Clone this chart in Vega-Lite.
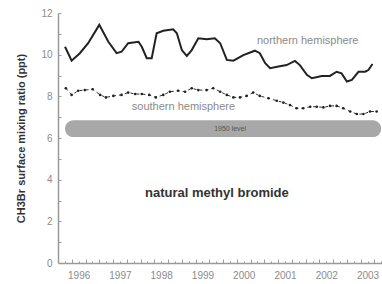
{
  "$schema": "https://vega.github.io/schema/vega-lite/v6.json",
  "width": 324,
  "height": 250,
  "autosize": {"type": "none"},
  "padding": {"left": 58, "top": 13, "right": 0, "bottom": 21},
  "background": "white",
  "config": {"view": {"stroke": null}, "font": "Liberation Sans"},
  "resolve": {"axis": {"x": "independent", "y": "independent"}},
  "datasets": {
    "north": [
      {"t": 1996.17, "v": 10.38}, {"t": 1996.33, "v": 9.71}, {"t": 1996.53, "v": 10.07}, {"t": 1996.73, "v": 10.55},
      {"t": 1997.0, "v": 11.43}, {"t": 1997.22, "v": 10.62}, {"t": 1997.42, "v": 10.07}, {"t": 1997.54, "v": 10.14},
      {"t": 1997.7, "v": 10.55}, {"t": 1997.95, "v": 10.62}, {"t": 1998.03, "v": 10.38}, {"t": 1998.15, "v": 9.83},
      {"t": 1998.27, "v": 9.83}, {"t": 1998.39, "v": 11.03}, {"t": 1998.55, "v": 11.15}, {"t": 1998.79, "v": 11.22},
      {"t": 1998.88, "v": 11.03}, {"t": 1999.0, "v": 10.22}, {"t": 1999.12, "v": 9.94}, {"t": 1999.24, "v": 10.22},
      {"t": 1999.4, "v": 10.79}, {"t": 1999.6, "v": 10.74}, {"t": 1999.8, "v": 10.79}, {"t": 1999.93, "v": 10.55},
      {"t": 2000.09, "v": 9.75}, {"t": 2000.25, "v": 9.71}, {"t": 2000.49, "v": 9.98}, {"t": 2000.77, "v": 10.19},
      {"t": 2000.89, "v": 10.07}, {"t": 2001.02, "v": 9.59}, {"t": 2001.14, "v": 9.35}, {"t": 2001.34, "v": 9.43},
      {"t": 2001.54, "v": 9.5}, {"t": 2001.74, "v": 9.7}, {"t": 2001.86, "v": 9.5}, {"t": 2002.03, "v": 9.03},
      {"t": 2002.15, "v": 8.87}, {"t": 2002.39, "v": 8.98}, {"t": 2002.59, "v": 8.98}, {"t": 2002.75, "v": 9.18},
      {"t": 2002.87, "v": 9.1}, {"t": 2003.0, "v": 8.71}, {"t": 2003.12, "v": 8.79}, {"t": 2003.28, "v": 9.18},
      {"t": 2003.44, "v": 9.18}, {"t": 2003.52, "v": 9.26}, {"t": 2003.62, "v": 9.55}
    ],
    "south": [
      {"t": 1996.19, "v": 8.39}, {"t": 1996.33, "v": 8.07}, {"t": 1996.49, "v": 8.27}, {"t": 1996.65, "v": 8.3},
      {"t": 1996.84, "v": 8.34}, {"t": 1997.02, "v": 8.07}, {"t": 1997.16, "v": 7.95}, {"t": 1997.34, "v": 8.02},
      {"t": 1997.54, "v": 8.07}, {"t": 1997.7, "v": 8.18}, {"t": 1997.87, "v": 8.11}, {"t": 1998.03, "v": 8.11},
      {"t": 1998.21, "v": 8.07}, {"t": 1998.37, "v": 7.95}, {"t": 1998.55, "v": 8.07}, {"t": 1998.71, "v": 8.22},
      {"t": 1998.91, "v": 8.27}, {"t": 1999.08, "v": 8.22}, {"t": 1999.24, "v": 8.39}, {"t": 1999.4, "v": 8.3},
      {"t": 1999.6, "v": 8.3}, {"t": 1999.76, "v": 8.39}, {"t": 1999.93, "v": 8.22}, {"t": 2000.09, "v": 8.07},
      {"t": 2000.25, "v": 7.95}, {"t": 2000.41, "v": 7.95}, {"t": 2000.57, "v": 8.02}, {"t": 2000.73, "v": 8.18},
      {"t": 2000.89, "v": 8.02}, {"t": 2001.1, "v": 7.91}, {"t": 2001.3, "v": 7.79}, {"t": 2001.46, "v": 7.7},
      {"t": 2001.62, "v": 7.58}, {"t": 2001.78, "v": 7.43}, {"t": 2001.94, "v": 7.43}, {"t": 2002.11, "v": 7.5},
      {"t": 2002.27, "v": 7.5}, {"t": 2002.43, "v": 7.47}, {"t": 2002.59, "v": 7.54}, {"t": 2002.75, "v": 7.54},
      {"t": 2002.91, "v": 7.43}, {"t": 2003.08, "v": 7.27}, {"t": 2003.24, "v": 7.15}, {"t": 2003.4, "v": 7.15},
      {"t": 2003.56, "v": 7.27}, {"t": 2003.72, "v": 7.27}
    ],
    "band": [{"t1": 1996.17, "t2": 2003.83, "v1": 6.05, "v2": 6.85, "label": "1950 level", "tm": 2000.17, "vm": 6.45}],
    "notes": [
      {"t": 2002.05, "v": 10.66, "text": "northern hemisphere"},
      {"t": 1999.04, "v": 7.49, "text": "southern hemisphere"}
    ],
    "title": [{"t": 1999.85, "v": 3.36, "text": "natural methyl bromide"}]
  },
  "layer": [
    {
      "data": {"name": "band"},
      "mark": {"type": "rect", "color": "#a8a8a8", "cornerRadius": 9},
      "encoding": {
        "x": {
          "field": "t1", "type": "quantitative",
          "scale": {"domain": [1996, 2003.85], "nice": false, "zero": false},
          "axis": {
            "orient": "bottom",
            "title": null,
            "values": [1996.5, 1997.5, 1998.5, 1999.5, 2000.5, 2001.5, 2002.5, 2003.5],
            "labelExpr": "floor(datum.value)",
            "labelOverlap": false,
            "labelFlush": false,
            "labelFontSize": 10,
            "labelColor": "#8c8c8c",
            "labelPadding": 7,
            "ticks": false,
            "domainColor": "#9a9a9a",
            "domainWidth": 1.5,
            "grid": false
          }
        },
        "x2": {"field": "t2"},
        "y": {
          "field": "v1", "type": "quantitative",
          "scale": {"domain": [0, 12], "nice": false},
          "axis": {
            "orient": "left",
            "title": "CH3Br surface mixing ratio (ppt)",
            "titleFontSize": 11,
            "titleFontWeight": "bold",
            "titleColor": "#333333",
            "titlePadding": 14,
            "values": [0, 2, 4, 6, 8, 10, 12],
            "labelFontSize": 10,
            "labelColor": "#8c8c8c",
            "labelPadding": 6,
            "ticks": false,
            "domainColor": "#9a9a9a",
            "domainWidth": 1.5,
            "grid": false
          }
        },
        "y2": {"field": "v2"}
      }
    },
    {
      "data": {"name": "band"},
      "mark": {"type": "text", "fontSize": 7, "color": "#555555"},
      "encoding": {
        "x": {
          "field": "tm", "type": "quantitative",
          "axis": {
            "orient": "bottom", "title": null, "labels": false, "domain": false, "grid": false,
            "offset": -4, "tickSize": 4, "tickColor": "#9a9a9a", "tickWidth": 1,
            "values": [1996.3333, 1996.6667, 1997, 1997.3333, 1997.6667, 1998, 1998.3333, 1998.6667, 1999, 1999.3333, 1999.6667, 2000, 2000.3333, 2000.6667, 2001, 2001.3333, 2001.6667, 2002, 2002.3333, 2002.6667, 2003, 2003.3333, 2003.6667]
          }
        },
        "y": {
          "field": "vm", "type": "quantitative",
          "axis": {
            "orient": "left", "title": null, "labels": false, "domain": false, "grid": false,
            "offset": -3, "tickSize": 3, "tickColor": "#9a9a9a", "tickWidth": 1,
            "values": [1, 2, 3, 4, 5, 6, 7, 8, 9, 10, 11, 12]
          }
        },
        "text": {"field": "label"}
      }
    },
    {
      "mark": {"type": "rule", "color": "#aaaaaa", "strokeWidth": 2},
      "encoding": {"y": {"datum": 12, "type": "quantitative", "axis": null}}
    },
    {
      "data": {"name": "north"},
      "mark": {"type": "line", "color": "#222222", "strokeWidth": 2},
      "encoding": {
        "x": {
          "field": "t", "type": "quantitative",
          "axis": {
            "orient": "bottom", "title": null, "labels": false, "domain": false, "grid": false,
            "offset": -2, "tickSize": 2, "tickColor": "#9a9a9a", "tickWidth": 1,
            "values": [1996.1667, 1996.5, 1996.8333, 1997.1667, 1997.5, 1997.8333, 1998.1667, 1998.5, 1998.8333, 1999.1667, 1999.5, 1999.8333, 2000.1667, 2000.5, 2000.8333, 2001.1667, 2001.5, 2001.8333, 2002.1667, 2002.5, 2002.8333, 2003.1667, 2003.5, 2003.8333]
          }
        },
        "y": {"field": "v", "type": "quantitative", "axis": null}
      }
    },
    {
      "data": {"name": "south"},
      "mark": {"type": "line", "color": "#333333", "strokeWidth": 1, "strokeDash": [3, 3]},
      "encoding": {
        "x": {"field": "t", "type": "quantitative", "axis": null},
        "y": {"field": "v", "type": "quantitative", "axis": null}
      }
    },
    {
      "data": {"name": "south"},
      "mark": {"type": "point", "filled": true, "color": "#222222", "size": 7, "opacity": 1},
      "encoding": {
        "x": {"field": "t", "type": "quantitative", "axis": null},
        "y": {"field": "v", "type": "quantitative", "axis": null}
      }
    },
    {
      "data": {"name": "notes"},
      "mark": {"type": "text", "fontSize": 11, "color": "#8a8a8a"},
      "encoding": {
        "x": {"field": "t", "type": "quantitative", "axis": null},
        "y": {"field": "v", "type": "quantitative", "axis": null},
        "text": {"field": "text"}
      }
    },
    {
      "data": {"name": "title"},
      "mark": {"type": "text", "fontSize": 13, "fontWeight": "bold", "color": "#333333"},
      "encoding": {
        "x": {"field": "t", "type": "quantitative", "axis": null},
        "y": {"field": "v", "type": "quantitative", "axis": null},
        "text": {"field": "text"}
      }
    }
  ]
}
